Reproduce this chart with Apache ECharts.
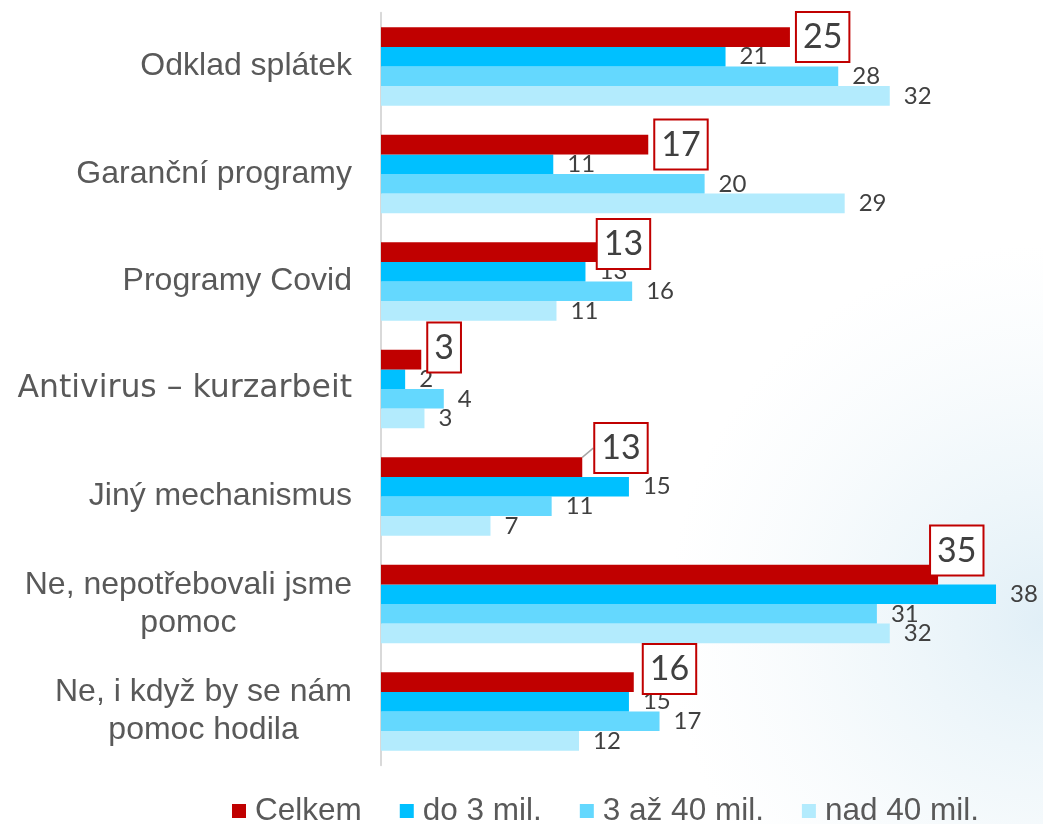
<!DOCTYPE html>
<html>
<head>
<meta charset="utf-8">
<script src="https://cdn.jsdelivr.net/npm/echarts@6/dist/echarts.min.js"></script>
<style>
html,body{margin:0;padding:0;background:#fff;}
#chart{width:1043px;height:824px;}
</style>
</head>
<body>
<div id="chart"></div>
<script>
// kategorie shora dolů
const categories = [
	'Odklad splátek',
	'Garanční programy',
	'Programy Covid',
	'Antivirus – kurzarbeit',
	'Jiný mechanismus',
	'Ne, nepotřebovali jsme\npomoc',
	'Ne, i když by se nám\npomoc hodila'
]
const seriesNames = ['Celkem', 'do 3 mil.', '3 až 40 mil.', 'nad 40 mil.']
const celkem = [25.4, 16.6, 13.4, 2.5, 12.5, 34.6, 15.7]
const do3 = [21.4, 10.7, 12.7, 1.5, 15.4, 38.2, 15.4]
const od3do40 = [28.4, 20.1, 15.6, 3.9, 10.6, 30.8, 17.3]
const nad40 = [31.6, 28.8, 10.9, 2.7, 6.8, 31.6, 12.3]

// posun rámečků u Celkem (dx, dy)
const boxShift = [[0, 0], [0, 0], [-6, -8], [0, -12], [6, -19], [-14, -24], [3, -13]]

const colors = ['#C00000', '#00C0FF', '#64D8FE', '#B3EBFD']
const labelFont = 'Lato, "Open Sans", sans-serif'
const catFont = '"Liberation Sans", Arial, sans-serif'

let chartObj = echarts.init(document.getElementById('chart'))

function plainLabel(){
	return {
		show: true,
		position: 'right',
		distance: 14,
		color: '#404040',
		fontFamily: labelFont,
		fontSize: 24,
		formatter: p => Math.round(p.value)
	}
}

let series = [celkem, do3, od3do40, nad40].map((vals, i) => {
	let s = {
		name: seriesNames[i],
		type: 'bar',
		barWidth: 19.6,
		barGap: '0%',
		data: vals,
		itemStyle: { color: colors[i] },
		label: plainLabel(),
		z: 10 - i
	}
	if( i === 0 ){
		s.label = {
			show: true,
			position: 'right',
			distance: 7,
			color: '#404040',
			fontFamily: labelFont,
			fontSize: 34,
			lineHeight: 40,
			padding: [4, 6],
			backgroundColor: '#fff',
			borderColor: '#C00000',
			borderWidth: 2,
			formatter: p => Math.round(p.value)
		}
		s.data = vals.map((v, j) => {
			let item = { value: v }
			if( j === 4 ){
				item.labelLine = { show: true, lineStyle: { color: '#A6A6A6', width: 1.5 } }
			}
			return item
		})
		s.labelLayout = p => ({ dx: boxShift[p.dataIndex][0], dy: boxShift[p.dataIndex][1] })
		s.z = 20
	}
	return s
})

let option = {
	animation: false,
	backgroundColor: '#fff',
	color: colors,
	graphic: [{
		type: 'rect',
		silent: true,
		z: -10,
		shape: { x: 600, y: 100, width: 443, height: 724 },
		style: {
			fill: {
				type: 'radial', x: 1, y: 0.72, r: 0.85,
				colorStops: [
					{ offset: 0, color: 'rgba(200,226,240,0.55)' },
					{ offset: 0.5, color: 'rgba(215,234,243,0.3)' },
					{ offset: 1, color: 'rgba(230,240,246,0)' }
				]
			}
		}
	}],
	grid: {
		left: 381,
		top: 12.75,
		width: 644,
		height: 752.5
	},
	legend: {
		data: seriesNames,
		left: 227,
		top: 790,
		icon: 'rect',
		itemWidth: 14,
		itemHeight: 14,
		itemGap: 38,
		textStyle: {
			color: '#595959',
			fontFamily: catFont,
			fontSize: 31.5,
			padding: [0, 0, 0, 4]
		}
	},
	xAxis: {
		type: 'value',
		min: 0,
		max: 40,
		show: false
	},
	yAxis: {
		type: 'category',
		inverse: true,
		data: categories,
		axisTick: { show: false },
		axisLine: { show: true, lineStyle: { color: '#D9D9D9', width: 2 } },
		axisLabel: {
			margin: 29,
			align: 'right',
			color: '#595959',
			fontFamily: catFont,
			fontSize: 32,
			lineHeight: 38,
			formatter: function (value) {
				if( value.indexOf('Antivirus') === 0 ){
					return '{m|' + value + '}'
				}
				return value.split('\n').map(l => '{c|' + l + '}').join('\n')
			},
			rich: {
				c: {
					align: 'center',
					color: '#595959',
					fontFamily: catFont,
					fontSize: 32,
					lineHeight: 38
				},
				m: {
					color: '#595959',
					fontFamily: '"DejaVu Sans", sans-serif',
					fontSize: 31.5,
					lineHeight: 38
				}
			}
		}
	},
	series: series
}
option && chartObj.setOption(option)
</script>
</body>
</html>
